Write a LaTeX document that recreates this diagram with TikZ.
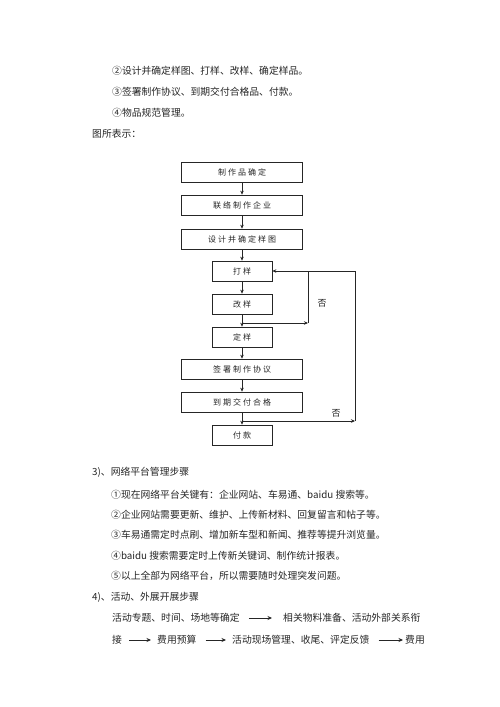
\documentclass[tikz,border=0pt]{standalone}
\usepackage{fontspec}
\setmainfont{Liberation Serif}
\newfontfamily\cjk{Noto Sans CJK SC}
\newfontfamily\cjkbox[LetterSpace=25]{Noto Sans CJK SC}
\usetikzlibrary{arrows.meta}
\begin{document}
\begin{tikzpicture}[x=1pt,y=-1pt,
  box/.style={draw=black!85, line width=0.7pt, minimum height=20pt, inner sep=0pt,
    font=\cjkbox\fontsize{8}{8}\selectfont, text=black!85},
  wide/.style={box, minimum width=121pt},
  narrow/.style={box, minimum width=60pt},
  arr/.style={draw=black!85, line width=0.7pt, -{Stealth[length=4pt,width=3.5pt]}},
  ln/.style={draw=black!85, line width=0.7pt},
  txt/.style={anchor=west, inner sep=0pt, font=\cjk\fontsize{9.8}{10}\selectfont, text=black!85},
  lbl/.style={inner sep=0pt, font=\cjk\fontsize{9}{9}\selectfont, text=black!85},
  tarr/.style={draw=black!85, line width=0.8pt, -{Stealth[length=4.5pt,width=4pt]}},
]
\fill[white] (0,0) rectangle (500,707);
\useasboundingbox (0,0) rectangle (500,707);

% intro text
\node[txt] (p1) at (112,71) {②设计并确定样图、打样、改样、确定样品。};
\node[txt] (p2) at (112,92) {③签署制作协议、到期交付合格品、付款。};
\node[txt] (p3) at (112,113) {④物品规范管理。};
\node[txt] (p4) at (92,134) {图所表示：};

% flowchart
\node[wide]   (b1) at (242,172) {制作品确定};
\node[wide]   (b2) at (242,205) {联络制作企业};
\node[wide]   (b3) at (242,239) {设计并确定样图};
\node[narrow] (b4) at (242,271) {打样};
\node[narrow] (b5) at (242,304) {改样};
\node[narrow] (b6) at (242,337) {定样};
\node[wide]   (b7) at (242,369) {签署制作协议};
\node[wide]   (b8) at (242,402) {到期交付合格};
\node[narrow] (b9) at (242,435) {付款};

\coordinate (j1) at (242,323);
\coordinate (c1) at (308,323);
\coordinate (c2) at (308,271);
\coordinate (j2) at (242,421);
\coordinate (c3) at (355,421);
\coordinate (c4) at (355,271);

\draw[arr] (b1) -- (b2);
\draw[arr] (b2) -- (b3);
\draw[arr] (b3) -- (b4);
\draw[arr] (b4) -- (b5);
\draw[arr] (b5) -- (b6);
\draw[arr] (b6) -- (b7);
\draw[arr] (b7) -- (b8);
\draw[arr] (b8) -- (b9);

\draw[arr] (j1) -- (c1);
\draw[ln] (c1) -- (c2);
\draw[arr] (j2) -- (c3);
\draw[ln] (c3) -- (c4);
\draw[arr] (c4) -- (b4.east);

\node[lbl] (n1) at (322,303) {否};
\node[lbl] (n2) at (336,413) {否};

% section 3
\node[txt] (s3) at (92,472) {3)、网络平台管理步骤};
\node[txt] (s31) at (111,495) {①现在网络平台关键有：企业网站、车易通、baidu 搜索等。};
\node[txt] (s32) at (111,515) {②企业网站需要更新、维护、上传新材料、回复留言和帖子等。};
\node[txt] (s33) at (111,535) {③车易通需定时点刷、增加新车型和新闻、推荐等提升浏览量。};
\node[txt] (s34) at (111,556) {④baidu 搜索需要定时上传新关键词、制作统计报表。};
\node[txt] (s35) at (111,576) {⑤以上全部为网络平台，所以需要随时处理突发问题。};

% section 4
\node[txt] (s4) at (92,597) {4)、活动、外展开展步骤};
\node[txt] (t1) at (112,618) {活动专题、时间、场地等确定};
\node[txt] (t2) at (283,618) {相关物料准备、活动外部关系衔};
\node[txt] (u1) at (112,640) {接};
\node[txt] (u2) at (157,640) {费用预算};
\node[txt] (u3) at (232,640) {活动现场管理、收尾、评定反馈};
\node[txt] (u4) at (405,640) {费用};

\draw[tarr, shorten <=9pt, shorten >=11pt] (t1) -- (t2);
\draw[tarr, shorten <=7pt, shorten >=6pt] (u1) -- (u2);
\draw[tarr, shorten <=9pt, shorten >=6pt] (u2) -- (u3);
\draw[tarr, shorten <=9pt, shorten >=2pt] (u3) -- (u4);
\end{tikzpicture}
\end{document}
